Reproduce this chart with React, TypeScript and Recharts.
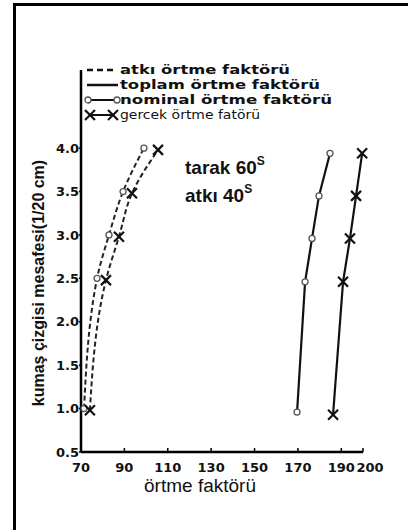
import { ScatterChart, Scatter, XAxis, YAxis, Legend } from 'recharts';

// örtme faktörü values, one array per curve
const levels = [1.0, 2.5, 3.0, 3.5, 4.0];
const levelsRight = [0.96, 2.46, 2.96, 3.45, 3.94];
const atkiNominal = [71.4, 77.4, 82.9, 89.4, 99.0];
const atkiGercek = [74.1, 81.5, 87.5, 93.5, 105.5];
const toplamNominal = [169.6, 173.3, 176.5, 179.7, 184.8];
const toplamGercek = [186.2, 190.8, 194.0, 196.8, 199.6];

const xTicks = [70, 90, 110, 130, 150, 170, 190, 200];
const yTicks = [0.5, 1.0, 1.5, 2.0, 2.5, 3.0, 3.5, 4.0];

const legendLabels = ['atkı örtme faktörü', 'toplam örtme faktörü', 'nominal örtme faktörü', 'gercek örtme fatörü'];
const legendWidths = [170, 200, 212, 140];
const xTitle = 'örtme faktörü';
const yTitle = 'kumaş çizgisi mesafesi(1/20 cm)';

const toPoints = (xs: number[], ys: number[]) => xs.map((x, i) => ({ x, y: ys[i] }));

const bold = { fontFamily: 'DejaVu Sans', fontWeight: 700 };

const Ring = (props: any) => (
  <circle cx={props.cx} cy={props.cy} r={3} fill="#fff" stroke="#555" strokeWidth={1.3} />
);

const Cross = (props: any) => {
  const { cx, cy } = props;
  const s = 5;
  return (
    <g stroke="#111" strokeWidth={2.2}>
      <line x1={cx - s} y1={cy - s} x2={cx + s} y2={cy + s} />
      <line x1={cx - s} y1={cy + s} x2={cx + s} y2={cy - s} />
    </g>
  );
};

const XTick = (props: any) => {
  const { x, y, payload } = props;
  const shift = payload.value === 200 ? 7 : 0;
  return (
    <g>
      <line x1={x} x2={x} y1={y} y2={y - 4} stroke="#000" strokeWidth={1.5} />
      <text x={x + shift} y={y + 20} textAnchor="middle" fontSize={13} fill="#111" style={bold}>
        {payload.value}
      </text>
    </g>
  );
};

const LegendBox = () => (
  <svg width={300} height={66}>
    <line x1={3} x2={33} y1={10} y2={10} stroke="#111" strokeWidth={2.5} strokeDasharray="6 4" />
    <line x1={3} x2={34} y1={25} y2={25} stroke="#111" strokeWidth={2.5} />
    <line x1={4} x2={33} y1={40} y2={40} stroke="#111" strokeWidth={2} />
    <circle cx={4} cy={40} r={3} fill="#fff" stroke="#555" strokeWidth={1.3} />
    <circle cx={33} cy={40} r={3} fill="#fff" stroke="#555" strokeWidth={1.3} />
    <line x1={6} x2={29} y1={55} y2={55} stroke="#111" strokeWidth={2} />
    <Cross cx={6} cy={55} />
    <Cross cx={29} cy={55} />
    {legendLabels.map((t, i) => (
      <text
        key={t}
        x={36}
        y={14 + i * 15}
        fontSize={12.5}
        fill="#111"
        textLength={legendWidths[i]}
        lengthAdjust="spacingAndGlyphs"
        style={i === 3 ? { fontFamily: 'DejaVu Sans' } : bold}
      >
        {t}
      </text>
    ))}
  </svg>
);

export default function App() {
  return (
    <div style={{ position: 'absolute', left: 0, top: 0, width: 408, height: 530, background: '#fff', fontFamily: 'Liberation Sans' }}>
      <div style={{ position: 'absolute', left: 13, top: 3, width: 400, height: 530, borderLeft: '3px solid #000', borderTop: '3px solid #000' }} />
      <ScatterChart width={408} height={530} margin={{ top: 70, right: 45, bottom: 48, left: 41 }}>
        <XAxis
          type="number"
          dataKey="x"
          domain={[70, 200]}
          ticks={xTicks}
          interval={0}
          height={30}
          tickSize={0}
          tickMargin={0}
          tick={<XTick />}
          axisLine={{ stroke: '#000', strokeWidth: 2.5 }}
        />
        <YAxis
          type="number"
          dataKey="y"
          domain={[0.5, 4.9]}
          ticks={yTicks}
          interval={0}
          width={40}
          tickSize={2}
          tickMargin={0}
          tickFormatter={(v: number) => v.toFixed(1)}
          tick={{ fontSize: 13, fill: '#111', ...bold }}
          tickLine={{ stroke: '#000', strokeWidth: 1.5 }}
          axisLine={{ stroke: '#000', strokeWidth: 2.5 }}
        />
        <Legend
          layout="vertical"
          align="center"
          verticalAlign="middle"
          content={() => <LegendBox />}
          wrapperStyle={{ top: 60, left: 84, width: 300, height: 66 }}
        />
        <Scatter
          data={toPoints(atkiNominal, levels)}
          line={{ stroke: '#222', strokeWidth: 2, strokeDasharray: '5 3' }}
          lineJointType="monotoneY"
          shape={<Ring />}
          isAnimationActive={false}
        />
        <Scatter
          data={toPoints(atkiGercek, levels.map((v) => v - 0.02))}
          line={{ stroke: '#222', strokeWidth: 2, strokeDasharray: '5 3' }}
          lineJointType="monotoneY"
          shape={<Cross />}
          isAnimationActive={false}
        />
        <Scatter
          data={toPoints(toplamNominal, levelsRight)}
          line={{ stroke: '#111', strokeWidth: 2.2 }}
          shape={<Ring />}
          isAnimationActive={false}
        />
        <Scatter
          data={toPoints(toplamGercek, levelsRight.map((v, i) => (i === 0 ? v - 0.03 : v)))}
          line={{ stroke: '#111', strokeWidth: 2.2 }}
          shape={<Cross />}
          isAnimationActive={false}
        />
      </ScatterChart>
      <svg width={408} height={530} style={{ position: 'absolute', left: 0, top: 0, pointerEvents: 'none' }}>
        <text x={185} y={174} fontSize={19} fill="#111" fontFamily="Liberation Sans" fontWeight={700}>
          tarak 60<tspan fontSize={12} dy={-9}>S</tspan>
        </text>
        <text x={185} y={202} fontSize={19} fill="#111" fontFamily="Liberation Sans" fontWeight={700}>
          atkı 40<tspan fontSize={12} dy={-9}>S</tspan>
        </text>
        <text x={200} y={492} fontSize={19} fill="#111" textAnchor="middle" fontFamily="Liberation Sans">
          {xTitle}
        </text>
        <text
          x={44}
          y={283}
          fontSize={16}
          fill="#111"
          textAnchor="middle"
          fontFamily="Liberation Sans"
          fontWeight={700}
          transform="rotate(-90 44 283)"
        >
          {yTitle}
        </text>
      </svg>
    </div>
  );
}
